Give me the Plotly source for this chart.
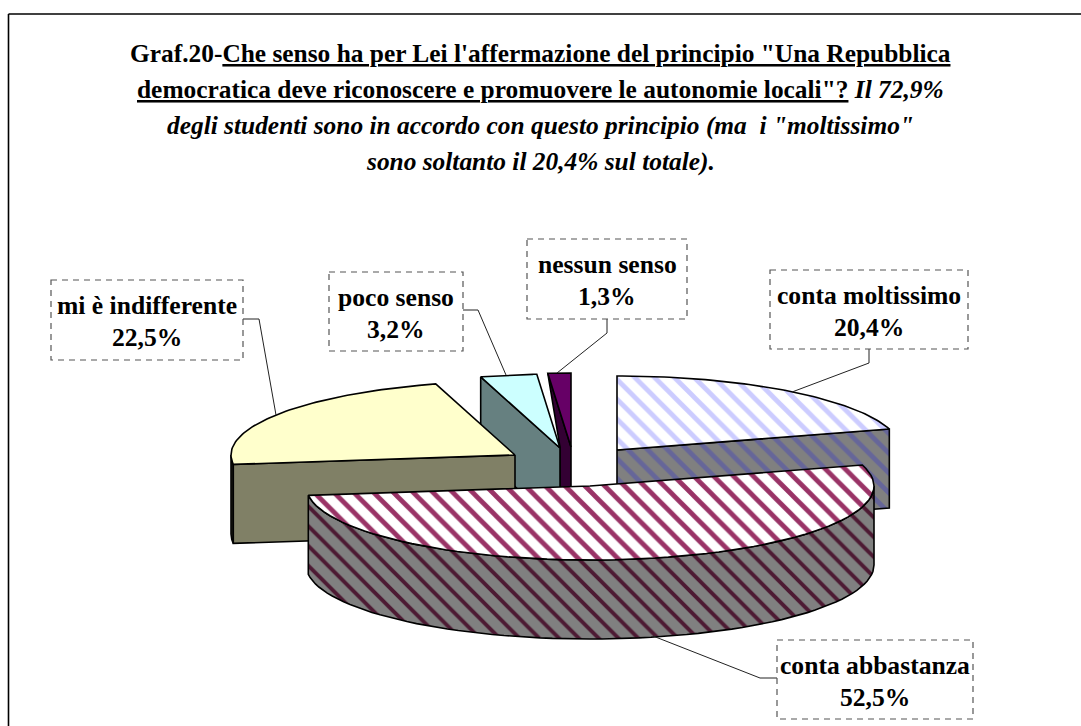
import numpy as np
import plotly.graph_objects as go

# ---- data ----
categories = ["conta moltissimo", "conta abbastanza", "mi è indifferente", "poco senso", "nessun senso"]
shares = [20.4, 52.5, 22.5, 3.2, 1.3]
share_labels = ["20,4%", "52,5%", "22,5%", "3,2%", "1,3%"]

# ---- pseudo-3D geometry of the exploded pie (pixel scale of the axes) ----
RX, RY, DEPTH = 284, 74, 79
centers = {
    "conta moltissimo": (617, 450),
    "conta abbastanza": (590, 486),
    "mi è indifferente": (515, 455),
    "poco senso": (560, 448),
    "nessun senso": (571, 447),
}
total = sum(shares)
edges = np.concatenate([[0], np.cumsum(shares)]) / total * 2 * np.pi
angles = {c: (edges[i], edges[i + 1]) for i, c in enumerate(categories)}


def rim(c, a0, a1, dy=0, n=70):
    cx, cy = centers[c]
    t = np.linspace(a0, a1, n)
    return list(cx + RX * np.sin(t)), list(cy - RY * np.cos(t) + dy)


def top_face(c):
    cx, cy = centers[c]
    a0, a1 = angles[c]
    x, y = rim(c, a0, a1)
    return [cx] + x + [cx], [cy] + y + [cy]


def radial_face(c, a):
    cx, cy = centers[c]
    x = cx + RX * np.sin(a)
    y = cy - RY * np.cos(a)
    return [cx, x, x, cx, cx], [cy, y, y + DEPTH, cy + DEPTH, cy]


def outer_face(c, a0, a1):
    x, y = rim(c, a0, a1)
    xb, yb = rim(c, a1, a0, DEPTH)
    return x + xb + [x[0]], y + yb + [y[0]]


def pat(fg, bg, size=14, sol=0.3):
    return dict(shape="\\", fgcolor=fg, bgcolor=bg, size=size, solidity=sol, fillmode="replace")


fig = go.Figure()


def face(xy, fill=None, pattern=None, lw=1.6):
    kw = dict(fillpattern=pattern) if pattern else dict(fillcolor=fill)
    fig.add_trace(go.Scatter(x=xy[0], y=xy[1], mode="lines", fill="toself",
                             line=dict(color="black", width=lw), hoverinfo="skip",
                             showlegend=False, **kw))


# back slices first
c = "nessun senso"
a0, a1 = angles[c]
cx, cy = centers[c]
rx0, ry0 = rim(c, a0, a0, n=1)
face(([rx0[0], cx - 11, cx - 11, cx, cx, rx0[0]],
      [ry0[0], cy, cy + DEPTH, cy + DEPTH, cy, ry0[0]]), "#330033")
face(top_face(c), "#660066")

c = "poco senso"
a0, a1 = angles[c]
face(radial_face(c, a0), "#668080")
face(top_face(c), "#CCFFFF")

c = "mi è indifferente"
a0, a1 = angles[c]
face(outer_face(c, a0, 3 * np.pi / 2), "#333326")
face(radial_face(c, a0), "#808066")
face(top_face(c), "#FFFFCC")

c = "conta moltissimo"
a0, a1 = angles[c]
face(radial_face(c, a1), pattern=pat("#666699", "#808080", sol=0.34))
face(top_face(c), pattern=pat("#CCCCFF", "#FFFFFF", sol=0.34))

c = "conta abbastanza"
a0, a1 = angles[c]
face(outer_face(c, np.pi / 2, a1), pattern=pat("#4D1A33", "#808080", sol=0.28))
face(top_face(c), pattern=pat("#993366", "#FFFFFF", sol=0.34))

# ---- labels ----
boxes = {
    "conta moltissimo": (770, 270, 968, 349),
    "conta abbastanza": (777, 640, 973, 719),
    "mi è indifferente": (51, 280, 243, 360),
    "poco senso": (329, 272, 463, 351),
    "nessun senso": (527, 239, 687, 319),
}
leaders = {
    "conta moltissimo": ([869, 869, 792], [349, 363, 392]),
    "conta abbastanza": ([777, 760, 653], [678, 678, 636]),
    "mi è indifferente": ([243, 259, 276], [319, 319, 415]),
    "poco senso": ([463, 478, 506], [310, 310, 375]),
    "nessun senso": ([607, 607, 557], [319, 333, 373]),
}
shapes = [
    dict(type="line", xref="x", yref="y", x0=8.5, y0=14, x1=1081, y1=14, line=dict(color="black", width=1.6)),
    dict(type="line", xref="x", yref="y", x0=8.5, y0=14, x1=8.5, y1=726, line=dict(color="black", width=1.6)),
]
annotations = []
for name, label in zip(categories, share_labels):
    x0, y0, x1, y1 = boxes[name]
    shapes.append(dict(type="rect", xref="x", yref="y", x0=x0, y0=y0, x1=x1, y1=y1,
                       line=dict(color="#555555", width=1.2, dash="6px,5px")))
    lx, ly = leaders[name]
    fig.add_trace(go.Scatter(x=lx, y=ly, mode="lines", line=dict(color="#222222", width=1),
                             hoverinfo="skip", showlegend=False))
    annotations.append(dict(x=(x0 + x1) / 2, y=y0 + 25, text=f"<b>{name}</b>", showarrow=False,
                            xref="x", yref="y", font=dict(size=25.6, color="black")))
    annotations.append(dict(x=(x0 + x1) / 2, y=y0 + 57, text=f"<b>{label}</b>", showarrow=False,
                            xref="x", yref="y", font=dict(size=25.6, color="black")))

title_lines = [
    "<b>Graf.20-<u>Che senso ha per Lei l'affermazione del principio \"Una Repubblica</u></b>",
    "<b><u>democratica deve riconoscere e promuovere le autonomie locali\"?</u> <i>Il 72,9%</i></b>",
    "<b><i>degli studenti sono in accordo con questo principio (ma  i \"moltissimo\"</i></b>",
    "<b><i>sono soltanto il 20,4% sul totale).</i></b>",
]
title_y = [53, 89, 125, 161]
for line, y in zip(title_lines, title_y):
    annotations.append(dict(x=540, y=y, text=line, showarrow=False, xref="x", yref="y",
                            font=dict(size=25.4, color="black")))

fig.update_layout(
    width=1081, height=726, margin=dict(l=0, r=0, t=0, b=0),
    paper_bgcolor="white", plot_bgcolor="white",
    font=dict(family="Liberation Serif"),
    xaxis=dict(range=[0, 1081], visible=False, fixedrange=True),
    yaxis=dict(range=[726, 0], visible=False, fixedrange=True),
    shapes=shapes, annotations=annotations, showlegend=False,
)
fig.write_html("out.html", config=dict(displayModeBar=False),
               post_script="document.body.style.margin='0';document.body.style.overflow='hidden';")
